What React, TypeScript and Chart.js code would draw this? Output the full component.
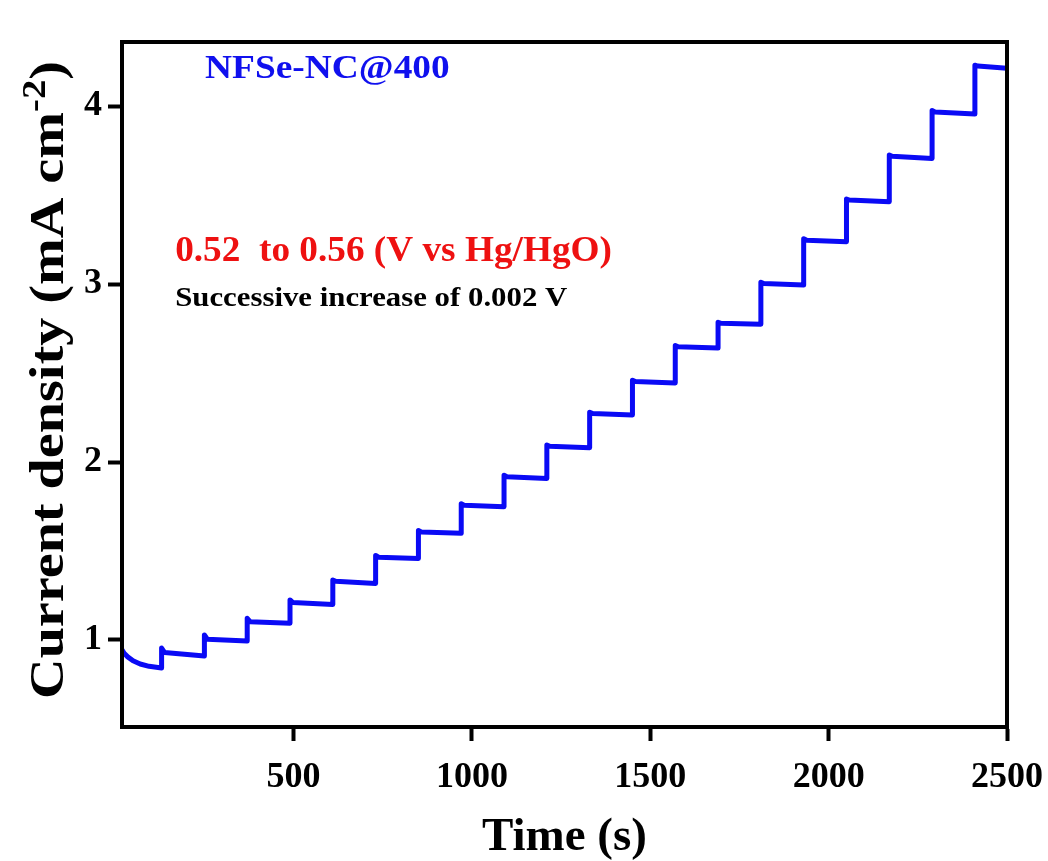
import React, { useEffect, useRef } from "react";
import { Chart, registerables } from "chart.js";

Chart.register(...registerables);

// ---- Data ----
const timeS = [
  19, 25, 35, 50, 70, 95, 130,
  130, 138, 250,
  250, 258, 370,
  370, 378, 490,
  490, 498, 610,
  610, 618, 730,
  730, 738, 850,
  850, 858, 970,
  970, 978, 1090,
  1090, 1098, 1210,
  1210, 1218, 1330,
  1330, 1338, 1450,
  1450, 1458, 1570,
  1570, 1578, 1690,
  1690, 1698, 1810,
  1810, 1818, 1930,
  1930, 1938, 2050,
  2050, 2058, 2170,
  2170, 2178, 2290,
  2290, 2298, 2410,
  2410, 2418, 2500,
];

const currentDensity = [
  0.944, 0.925, 0.905, 0.883, 0.865, 0.852, 0.843,
  0.955, 0.93, 0.91,
  1.028, 1.004, 0.994,
  1.122, 1.103, 1.094,
  1.225, 1.21, 1.2,
  1.337, 1.33, 1.318,
  1.475, 1.465, 1.458,
  1.615, 1.607, 1.599,
  1.765, 1.757, 1.749,
  1.925, 1.917, 1.908,
  2.095, 2.088, 2.08,
  2.28, 2.272, 2.264,
  2.46, 2.452, 2.444,
  2.655, 2.648, 2.64,
  2.785, 2.779, 2.774,
  3.01, 3.003, 2.994,
  3.255, 3.246, 3.238,
  3.478, 3.472, 3.463,
  3.725, 3.718, 3.706,
  3.975, 3.967, 3.955,
  4.23, 4.225, 4.212,
];

const xTickValues = [500, 1000, 1500, 2000, 2500];
const yTickValues = [1, 2, 3, 4];

const xTitle = "Time (s)";
const yTitleMain = "Current density (mA cm";
const yTitleSup = "-2";
const yTitleEnd = ")";

const sampleLabel = "NFSe-NC@400";
const potentialLabel = "0.52  to 0.56 (V vs Hg/HgO)";
const stepLabel = "Successive increase of 0.002 V";

const FONT = "'Liberation Serif', 'Times New Roman', Times, serif";

const framePlugin = {
  id: "frame",
  afterDatasetsDraw(chart: any) {
    const { ctx, chartArea: a } = chart;
    ctx.save();
    ctx.strokeStyle = "#000";
    ctx.lineWidth = 4;
    ctx.strokeRect(a.left, a.top, a.right - a.left, a.bottom - a.top);
    ctx.restore();
  },
};

function drawStretched(ctx: any, text: string, x: number, y: number, sx: number) {
  ctx.save();
  ctx.translate(x, y);
  ctx.scale(sx, 1);
  ctx.fillText(text, 0, 0);
  ctx.restore();
}

const textPlugin = {
  id: "texts",
  afterDraw(chart: any) {
    const { ctx } = chart;
    const xs = chart.scales.x;
    const ys = chart.scales.y;
    ctx.save();
    ctx.textAlign = "left";
    ctx.textBaseline = "middle";

    ctx.fillStyle = "#1010ee";
    ctx.font = `bold 34px ${FONT}`;
    drawStretched(ctx, sampleLabel, xs.getPixelForValue(252), ys.getPixelForValue(4.205), 1.1);

    ctx.fillStyle = "#ee1111";
    ctx.font = `bold 36px ${FONT}`;
    drawStretched(ctx, potentialLabel, xs.getPixelForValue(168), ys.getPixelForValue(3.18), 1.035);

    ctx.fillStyle = "#000";
    ctx.font = `bold 28px ${FONT}`;
    drawStretched(ctx, stepLabel, xs.getPixelForValue(168), ys.getPixelForValue(2.917), 1.1);

    // Y axis title with superscript
    const mainFont = `bold 48px ${FONT}`;
    const supFont = `bold 33px ${FONT}`;
    ctx.font = mainFont;
    const w1 = ctx.measureText(yTitleMain).width;
    const w3 = ctx.measureText(yTitleEnd).width;
    ctx.font = supFont;
    const w2 = ctx.measureText(yTitleSup).width;
    const total = w1 + w2 + w3;
    ctx.translate(47, 380);
    ctx.rotate(-Math.PI / 2);
    ctx.scale(1.17, 1);
    ctx.fillStyle = "#000";
    ctx.textBaseline = "alphabetic";
    let cx = -total / 2;
    const base = 16;
    ctx.font = mainFont;
    ctx.fillText(yTitleMain, cx, base);
    cx += w1;
    ctx.font = supFont;
    ctx.fillText(yTitleSup, cx, base - 18);
    cx += w2;
    ctx.font = mainFont;
    ctx.fillText(yTitleEnd, cx, base);
    ctx.restore();
  },
};

export default function App() {
  const canvasRef = useRef<HTMLCanvasElement | null>(null);

  useEffect(() => {
    document.body.style.margin = "0";
    const canvas = canvasRef.current;
    if (!canvas) return;
    const points = timeS.map((t, i) => ({ x: t, y: currentDensity[i] }));
    const chart = new Chart(canvas, {
      type: "scatter",
      data: {
        datasets: [
          {
            data: points,
            showLine: true,
            borderColor: "#0a0af5",
            borderWidth: 5,
            pointRadius: 0,
            pointHoverRadius: 0,
            tension: 0,
            borderJoinStyle: "round",
            borderCapStyle: "round",
          },
        ],
      },
      options: {
        animation: false,
        responsive: false,
        maintainAspectRatio: false,
        layout: { padding: { top: 42, right: 41, left: 0, bottom: 0 } },
        plugins: {
          legend: { display: false },
          tooltip: { enabled: false },
        },
        scales: {
          x: {
            type: "linear",
            min: 19,
            max: 2500,
            afterFit: (s: any) => {
              s.height = 134;
              s.paddingLeft = 0;
              s.paddingRight = 0;
            },
            afterBuildTicks: (s: any) => {
              s.ticks = xTickValues.map((v) => ({ value: v }));
            },
            grid: {
              display: true,
              drawOnChartArea: false,
              drawTicks: true,
              tickLength: 14,
              tickWidth: 4,
              tickColor: "#000",
            },
            border: { display: true, width: 4, color: "#000" },
            ticks: {
              color: "#000",
              padding: 15,
              font: { family: FONT, size: 36, weight: "bold" },
              maxRotation: 0,
              callback: (v: any) => String(v),
            },
            title: {
              display: true,
              text: xTitle,
              color: "#000",
              font: { family: FONT, size: 47, weight: "bold", lineHeight: 1.0 },
              padding: { top: 0, bottom: 0 },
            },
          },
          y: {
            type: "linear",
            min: 0.511,
            max: 4.36,
            afterFit: (s: any) => {
              s.width = 122;
              s.paddingTop = 0;
              s.paddingBottom = 0;
            },
            afterBuildTicks: (s: any) => {
              s.ticks = yTickValues.map((v) => ({ value: v }));
            },
            grid: {
              display: true,
              drawOnChartArea: false,
              drawTicks: true,
              tickLength: 14,
              tickWidth: 4,
              tickColor: "#000",
            },
            border: { display: true, width: 4, color: "#000" },
            ticks: {
              color: "#000",
              padding: 6,
              font: { family: FONT, size: 36, weight: "bold" },
            },
            title: { display: false },
          },
        },
      },
      plugins: [framePlugin, textPlugin],
    });
    return () => chart.destroy();
  }, []);

  return (
    <div style={{ width: 1048, height: 861, background: "#fff" }}>
      <canvas ref={canvasRef} width={1048} height={861} style={{ display: "block" }} />
    </div>
  );
}
